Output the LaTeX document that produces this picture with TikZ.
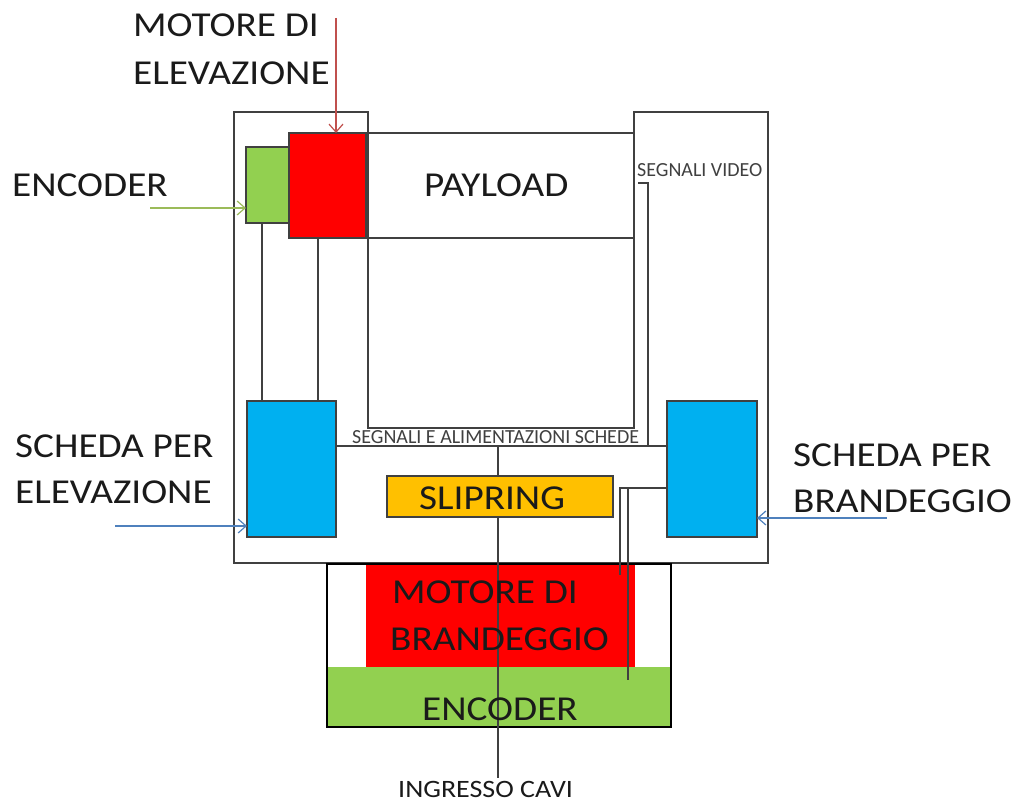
\documentclass[tikz,border=0pt]{standalone}
\usepackage{fontspec}
\setmainfont{Carlito}[FakeStretch=1.12]
\newfontfamily\smallf{Carlito}
\usetikzlibrary{arrows.meta}
\definecolor{wire}{HTML}{404040}
\definecolor{cRed}{HTML}{FF0000}
\definecolor{cGreen}{HTML}{92D050}
\definecolor{cBlue}{HTML}{00B0F0}
\definecolor{cOrange}{HTML}{FFC000}
\definecolor{aRed}{HTML}{C0504D}
\definecolor{aGreen}{HTML}{9BBB59}
\definecolor{aBlue}{HTML}{4F81BD}
\definecolor{txt}{HTML}{1A1A1A}
\begin{document}
\begin{tikzpicture}[x=1pt,y=-1pt,
  frame/.style={draw=wire, line width=1.8pt},
  blk/.style={draw=wire, line width=1.5pt, inner sep=0pt, outer sep=0pt, anchor=north west},
  wirel/.style={draw=wire, line width=1.5pt},
  big/.style={font=\fontsize{35}{42}\selectfont, inner sep=0pt, anchor=base west, text=txt},
  small/.style={font=\smallf\fontsize{20}{24}\selectfont, inner sep=0pt, anchor=base west, text=wire},
  ptr/.style={line width=1.2pt, -{Straight Barb[length=8pt,width=14pt,line width=1.2pt]}},
]
\useasboundingbox (0,0) rectangle (1021,802);

% outer frame
\draw[frame] (234,112) -- (368,112) -- (368,428) -- (634,428) -- (634,112) -- (768,112) -- (768,563) -- (234,563) -- cycle;

% top boxes
\node[blk, minimum width=268pt, minimum height=105pt] (pay) at (366,133) {};
\node[blk, fill=cGreen, minimum width=43pt, minimum height=76pt] (encE) at (246,147) {};
\node[blk, fill=cRed, minimum width=77pt, minimum height=105pt] (motE) at (289,133) {};

% boards
\node[blk, fill=cBlue, minimum width=89pt, minimum height=136pt] (bluL) at (247,401) {};
\node[blk, fill=cBlue, minimum width=90pt, minimum height=136pt] (bluR) at (667,401) {};

% wires from encoder and motor to left board
\draw[wirel] ([xshift=-5.5pt]encE.south) -- ([xshift=-5.5pt]encE.south |- bluL.north);
\draw[wirel] ([xshift=-9.5pt]motE.south) -- ([xshift=-9.5pt]motE.south |- bluL.north);

% signals line
\draw[wirel] ([yshift=23pt]bluL.east) -- ([yshift=23pt]bluL.east -| bluR.west);
\coordinate (vidS) at (638,183);
\coordinate (vidE) at (648,446);
\draw[wirel] (vidS) -- (vidS -| vidE) -- (vidE);

% slipring + central cable
\node[blk, fill=cOrange, minimum width=226pt, minimum height=41pt] (slip) at (387,476) {};
\coordinate (cabTop) at (498,446);
\coordinate (cabEnd) at (498,778);
\draw[wirel] (cabTop) -- (cabTop |- slip.north);

% bottom housing
\node[inner sep=0pt, outer sep=0pt, anchor=north west, fill=cRed, minimum width=269pt, minimum height=103pt] (motB) at (366,564) {};
\node[inner sep=0pt, outer sep=0pt, anchor=north west, fill=cGreen, minimum width=344pt, minimum height=60pt] (encB) at (327,667) {};
\node[draw=black, line width=2.6pt, inner sep=0pt, outer sep=0pt, anchor=north west, minimum width=344pt, minimum height=163pt] (hous) at (327,564) {};
\draw[wirel] (cabTop |- slip.south) -- (cabEnd);

% wires from right board
\draw[wirel] ([yshift=-19pt]bluR.west) -| ([xshift=-47pt,yshift=-106pt]bluR.west);
\draw[wirel] ([xshift=-39pt,yshift=-19pt]bluR.west) -- ([xshift=-39pt,yshift=-211pt]bluR.west);

% pointer arrows
\coordinate (aR) at (336,18);
\coordinate (aG) at (150,208);
\coordinate (aBL) at (115,526);
\coordinate (aBR) at (887,518);
\draw[ptr, draw=aRed] (aR) -- (aR |- motE.north);
\draw[ptr, draw=aGreen] (aG) -- (aG -| encE.west);
\draw[ptr, draw=aBlue] (aBL) -- (aBL -| bluL.west);
\draw[ptr, draw=aBlue] (aBR) -- (aBR -| bluR.east);

% texts
\node[big] (tMot1) at (133,37) {MOTORE DI};
\node[big] (tMot2) at (133,85) {ELEVAZIONE};
\node[big] (tEnc) at (12,197) {ENCODER};
\node[big] (tSch1) at (15,457) {SCHEDA PER};
\node[big] (tSch2) at (15,503) {ELEVAZIONE};
\node[big] (tSchR1) at (793,467) {SCHEDA PER};
\node[big] (tSchR2) at (793,512) {BRANDEGGIO};
\node[big] (tPay) at (424,197) {PAYLOAD};
\node[small] (tVid) at (637,177) {SEGNALI VIDEO};
\node[small] (tSeg) at (352,443) {SEGNALI E ALIMENTAZIONI SCHEDE};
\node[big] (tSlip) at (419,509) {SLIPRING};
\node[big] (tMB1) at (392,603) {MOTORE DI};
\node[big] (tMB2) at (390,650) {BRANDEGGIO};
\node[big] (tEB) at (422,720) {ENCODER};
\node[big, font=\fontsize{25}{30}\selectfont] (tIng) at (398,797) {INGRESSO CAVI};
\end{tikzpicture}
\end{document}
